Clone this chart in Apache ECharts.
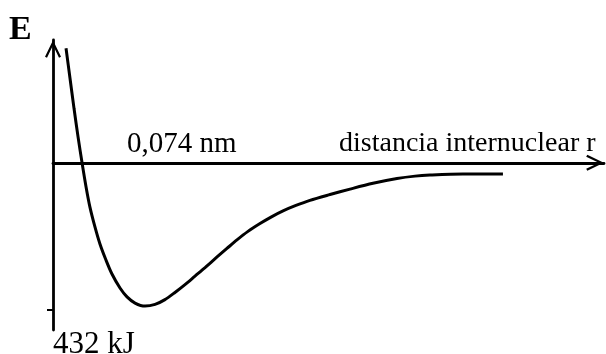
<!DOCTYPE html>
<html>
<head>
<meta charset="utf-8">
<script src="https://cdn.jsdelivr.net/npm/echarts@6/dist/echarts.min.js"></script>
<style>
html,body{margin:0;padding:0;background:#fff;}
#c{width:606px;height:354px;}
</style>
</head>
<body>
<div id="c"></div>
<script>
// internuclear distance r (nm)
var rValues = [0.0104, 0.0136, 0.0168, 0.0200, 0.0232, 0.0264, 0.0295, 0.0335, 0.0375, 0.0423, 0.0471, 0.0535, 0.0591, 0.0655, 0.0735, 0.0815, 0.0894, 0.0974, 0.1054, 0.1134, 0.1214, 0.1310, 0.1389, 0.1469, 0.1557, 0.1653, 0.1741, 0.1837, 0.1940, 0.2052, 0.2212, 0.2372, 0.2555, 0.2747, 0.2891, 0.3010, 0.3274, 0.3593];
// potential energy E (kJ)
var eValues = [336, 247, 159, 76, 0, -71, -130, -188, -238, -285, -326, -367, -393, -411, -420, -415, -401, -380, -357, -332, -307, -276, -251, -226, -201, -178, -159, -141, -125, -110, -93, -77, -60, -46, -39, -36, -33, -33];
var tickValues = [-432];
var labelE = 'E';
var labelMin = '0,074 nm';
var labelR = 'distancia internuclear r';
var labelDepth = '432 kJ';

var curve = rValues.map(function (r, i) { return [r, eValues[i]]; });

var arrowPath = 'path://M8,0 L16,16.5 L14,17.6 L8,5 L2,17.6 L0,16.5 Z';
var chart = echarts.init(document.getElementById('c'), null, {renderer: 'canvas'});
var serif = '"Liberation Serif", "Times New Roman", serif';
chart.setOption({
  animation: false,
  grid: {left: 53, right: 2, top: 40, bottom: 24},
  xAxis: {
    type: 'value', min: 0, max: 0.44,
    axisLine: {show: true, onZero: true, symbol: ['none', arrowPath], symbolSize: [16, 18], symbolOffset: [0, -9],
      lineStyle: {color: '#000', width: 2.8}},
    axisTick: {show: false}, axisLabel: {show: false}, splitLine: {show: false}
  },
  yAxis: {
    type: 'value', min: -490, max: 360,
    axisLine: {show: true, onZero: false, symbol: ['none', arrowPath], symbolSize: [16, 18], symbolOffset: [0, -9],
      lineStyle: {color: '#000', width: 2.8}},
    axisTick: {show: true, inside: false, length: 6, customValues: tickValues, lineStyle: {color: '#000', width: 2}},
    axisLabel: {show: false}, splitLine: {show: false}
  },
  series: [{
    type: 'line', data: curve, smooth: 0.3, showSymbol: false, clip: false,
    lineStyle: {color: '#000', width: 3}
  }],
  graphic: [
    {type: 'text', x: 9, y: 13, style: {text: labelE, font: 'bold 34px ' + serif, fill: '#000'}},
    {type: 'text', x: 127, y: 130, style: {text: labelMin, font: '29px ' + serif, fill: '#000'}},
    {type: 'text', x: 339, y: 130, style: {text: labelR, font: '28px ' + serif, fill: '#000'}},
    {type: 'text', x: 53, y: 329, style: {text: labelDepth, font: '31px ' + serif, fill: '#000'}}
  ]
});
</script>
</body>
</html>
